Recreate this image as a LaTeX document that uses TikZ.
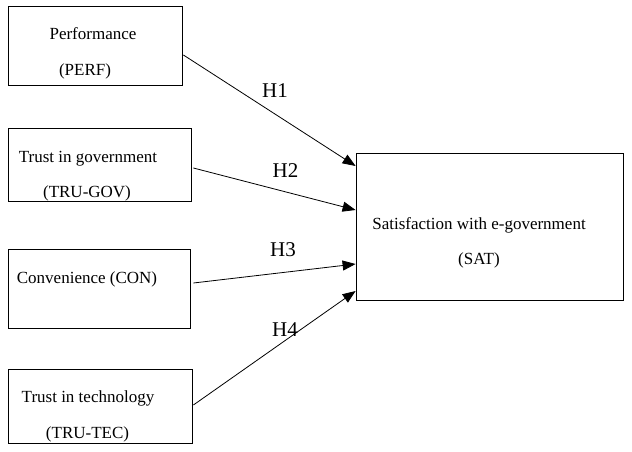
\documentclass[tikz,border=0pt]{standalone}
\usepackage{fontspec}
\setmainfont{Liberation Serif}
\usetikzlibrary{arrows.meta}
\begin{document}
\begin{tikzpicture}[x=1pt, y=-1pt,
    construct/.style ={rectangle, draw, line width=0.8pt, inner sep=0pt},
    label/.style ={anchor=base, inner sep=0pt, font=\fontsize{17}{20}\selectfont},
    hypo/.style ={anchor=base, inner sep=0pt, font=\fontsize{21}{24}\selectfont},
    link/.style ={line width=0.8pt, -{Triangle[length=13pt, width=10pt]}}]
   \useasboundingbox (0,0) rectangle (632,452);

   \node[construct, minimum width=174pt, minimum height=79pt] (PERF) at (95,45.5) {};
   \node[construct, minimum width=183pt, minimum height=73pt] (TRUGOV) at (99.5,164.5) {};
   \node[construct, minimum width=182pt, minimum height=79pt] (CON) at (99,288.5) {};
   \node[construct, minimum width=184pt, minimum height=74pt] (TRUTEC) at (100,406) {};
   \node[construct, minimum width=267pt, minimum height=147pt] (SAT) at (489.5,226.5) {};

   \node[label] (perf1) at (93,40) {Performance};
   \node[label] (perf2) at (85,76) {(PERF)};
   \node[label] (gov1) at (88,162) {Trust in government};
   \node[label] (gov2) at (87,197) {(TRU-GOV)};
   \node[label] (con1) at (87,283) {Convenience (CON)};
   \node[label] (tec1) at (88,402) {Trust in technology};
   \node[label] (tec2) at (87.5,438) {(TRU-TEC)};
   \node[label] (sat1) at (479,229) {Satisfaction with e-government};
   \node[label] (sat2) at (479,264) {(SAT)};

   \draw[link] ([xshift=1pt, yshift=-9.5pt]PERF.east) to ([yshift=60.5pt]SAT.west);
   \draw[link] ([xshift=2pt, yshift=-3.5pt]TRUGOV.east) to ([yshift=16.5pt]SAT.west);
   \draw[link] ([xshift=3pt, yshift=5.5pt]CON.east) to ([yshift=-37.5pt]SAT.west);
   \draw[link] ([xshift=1pt, yshift=1pt]TRUTEC.east) to ([yshift=-64.5pt]SAT.west);

   \node[hypo] (H1) at (275,97) {H1};
   \node[hypo] (H2) at (285.5,177) {H2};
   \node[hypo] (H3) at (283,256) {H3};
   \node[hypo] (H4) at (285,336) {H4};

 \end{tikzpicture}
\end{document}
